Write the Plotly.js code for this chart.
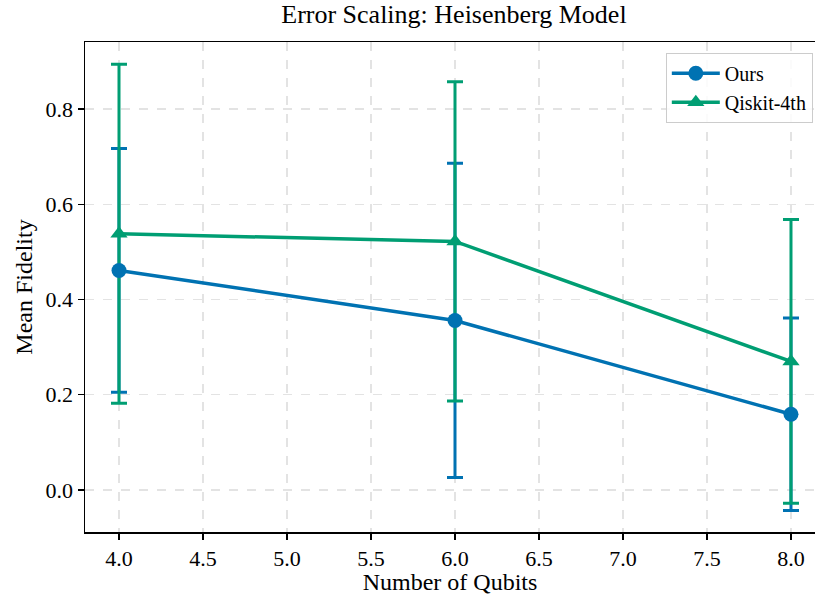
<!DOCTYPE html>
<html>
<head>
<meta charset="utf-8">
<script src="https://cdn.plot.ly/plotly-3.0.1.min.js"></script>
<style>html,body{margin:0;padding:0;background:#fff;}#chart{width:815px;height:595px;}</style>
</head>
<body>
<div id="chart"></div>
<script>
const qubits = [4, 6, 8];
const oursMean = [0.461, 0.356, 0.159];
const oursErr = [0.256, 0.330, 0.202];
const qiskitMean = [0.538, 0.522, 0.270];
const qiskitErr = [0.356, 0.335, 0.298];
const xTicks = [4.0, 4.5, 5.0, 5.5, 6.0, 6.5, 7.0, 7.5, 8.0];
const yTicks = [0.0, 0.2, 0.4, 0.6, 0.8];

const blue = '#0072B2';
const green = '#009E73';
const font = 'Liberation Serif, Times New Roman, serif';

function errTrace(y, err, color) {
  return {
    x: qubits, y: y, type: 'scatter', mode: 'markers',
    marker: {size: 1, opacity: 0, color: color},
    error_y: {type: 'data', array: err, visible: true, color: color, thickness: 3, width: 8},
    showlegend: false, hoverinfo: 'skip'
  };
}
const data = [
  errTrace(oursMean, oursErr, blue),
  errTrace(qiskitMean, qiskitErr, green),
  {x: qubits, y: oursMean, type: 'scatter', mode: 'lines+markers', name: 'Ours',
   line: {color: blue, width: 3.5}, marker: {symbol: 'circle', size: 15, color: blue}},
  {x: qubits, y: qiskitMean, type: 'scatter', mode: 'lines+markers', name: 'Qiskit-4th',
   line: {color: green, width: 3.5}, marker: {symbol: 'triangle-up', size: 15, color: green}}
];

const layout = {
  width: 815, height: 595,
  margin: {l: 85, r: 0, t: 42, b: 63},
  paper_bgcolor: '#fff', plot_bgcolor: '#fff',
  font: {family: font, size: 22, color: '#000'},
  title: {text: 'Error Scaling: Heisenberg Model', font: {family: font, size: 26, color: '#000'},
          x: 0.557, xanchor: 'center', y: 0.992, yanchor: 'top'},
  xaxis: {
    range: [3.7976, 8.1429], tickvals: xTicks, ticktext: xTicks.map(v => v.toFixed(1)),
    showline: true, linecolor: '#000', linewidth: 1.5, mirror: true,
    ticks: 'outside', ticklen: 6, tickwidth: 1.2, tickcolor: '#000',
    showgrid: true, gridcolor: '#e3e3e3', griddash: 'dash', gridwidth: 1.2,
    zeroline: false,
    title: {text: 'Number of Qubits', font: {family: font, size: 24}, standoff: 4},
    tickfont: {family: font, size: 22}
  },
  yaxis: {
    range: [-0.0882, 0.9407], tickvals: yTicks, ticktext: yTicks.map(v => v.toFixed(1)),
    showline: true, linecolor: '#000', linewidth: 1.5, mirror: false,
    ticks: 'outside', ticklen: 6, tickwidth: 1.2, tickcolor: '#000',
    showgrid: true, gridcolor: '#e3e3e3', griddash: 'dash', gridwidth: 1.2,
    zeroline: false,
    title: {text: 'Mean Fidelity', font: {family: font, size: 24}, standoff: 6},
    tickfont: {family: font, size: 22}
  },
  legend: {
    x: 0.997, xanchor: 'right', y: 0.978, yanchor: 'top',
    bgcolor: 'rgba(255,255,255,0.85)', bordercolor: '#cccccc', borderwidth: 1,
    font: {family: font, size: 20}, itemwidth: 48
  },
  showlegend: true
};
Plotly.newPlot('chart', data, layout, {displayModeBar: false, staticPlot: true});
</script>
</body>
</html>
